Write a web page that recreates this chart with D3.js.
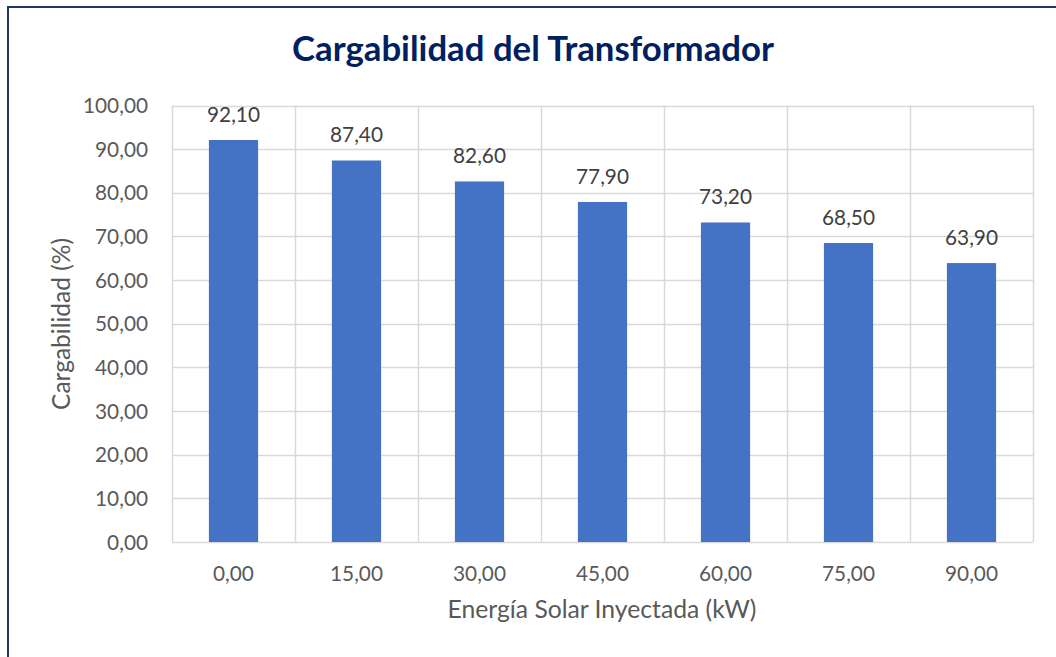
<!DOCTYPE html>
<html><head><meta charset="utf-8">
<script src="https://cdn.jsdelivr.net/npm/d3@7/dist/d3.min.js"></script>
<style>html,body{margin:0;padding:0;background:#fff;}svg{display:block;}</style>
</head><body>
<svg id="c" width="1056" height="657"></svg>
<script>
const categories = ["0,00","15,00","30,00","45,00","60,00","75,00","90,00"];
const values = [92.10, 87.40, 82.60, 77.90, 73.20, 68.50, 63.90];
const yTicks = [0,10,20,30,40,50,60,70,80,90,100];
const title = "Cargabilidad del Transformador";
const xTitle = "Energía Solar Inyectada (kW)";
const yTitle = "Cargabilidad (%)";

const fmt = v => v.toFixed(2).replace(".", ",");
const FONT = "Lato, 'Open Sans', sans-serif";
const svg = d3.select("#c");
const W = 1056, H = 657;
const m = {left:172, right:1033, top:105.5, bottom:542};

// outer border
svg.append("rect").attr("x",8).attr("y",7).attr("width",W+20).attr("height",H+20)
  .attr("fill","none").attr("stroke","#203864").attr("stroke-width",2);

const x = d3.scaleBand().domain(categories).range([m.left,m.right]).paddingInner(0).paddingOuter(0);
const y = d3.scaleLinear().domain([0,100]).range([m.bottom,m.top]);

// horizontal gridlines
svg.append("g").selectAll("line").data(yTicks).join("line")
  .attr("x1",m.left).attr("x2",m.right)
  .attr("y1",d=>Math.round(y(d))+0.5).attr("y2",d=>Math.round(y(d))+0.5)
  .attr("stroke","#d9d9d9").attr("stroke-width",1.5);
// vertical gridlines at category boundaries
const bounds = categories.map(c=>x(c)).concat([m.right]);
svg.append("g").selectAll("line").data(bounds).join("line")
  .attr("x1",d=>Math.round(d)+0.5).attr("x2",d=>Math.round(d)+0.5)
  .attr("y1",m.top).attr("y2",m.bottom)
  .attr("stroke","#d9d9d9").attr("stroke-width",1.5);

// bars
const bw = x.bandwidth()*0.4;
svg.append("g").selectAll("rect").data(values).join("rect")
  .attr("x",(d,i)=>x(categories[i])+x.bandwidth()/2-bw/2)
  .attr("width",bw)
  .attr("y",d=>y(d)).attr("height",d=>y(0)-y(d))
  .attr("fill","#4472c4");

function fitText(sel, target){
  sel.each(function(){
    const n = this; const fs = parseFloat(n.getAttribute("font-size"));
    const w = n.getComputedTextLength();
    if (w>0) n.setAttribute("font-size", (fs*target/w).toFixed(2));
  });
}

// data labels
svg.append("g").selectAll("text").data(values).join("text")
  .attr("x",(d,i)=>x(categories[i])+x.bandwidth()/2)
  .attr("y",d=>y(d)-18)
  .attr("text-anchor","middle").attr("font-family",FONT).attr("font-size",22)
  .attr("fill","#404040").text(d=>fmt(d));

// y tick labels
const yl = svg.append("g").selectAll("text").data(yTicks).join("text")
  .attr("x",148).attr("y",d=>y(d)+7.5)
  .attr("text-anchor","end").attr("font-family",FONT).attr("font-size",22)
  .attr("fill","#595959").text(d=>fmt(d));
fitText(yl.filter(d=>d===100), 65);
const yfs = yl.filter(d=>d===100).attr("font-size");
yl.attr("font-size", yfs);

// x tick labels
svg.append("g").selectAll("text").data(categories).join("text")
  .attr("x",c=>x(c)+x.bandwidth()/2).attr("y",581)
  .attr("text-anchor","middle").attr("font-family",FONT).attr("font-size",yfs)
  .attr("fill","#595959").text(c=>c);

svg.selectAll("g text").filter(function(){return this.getAttribute("fill")==="#404040";}).attr("font-size",yfs);

// axis titles
const xt = svg.append("text").attr("x",602).attr("y",618).attr("text-anchor","middle")
  .attr("font-family",FONT).attr("font-size",22).attr("fill","#595959").text(xTitle);
fitText(xt, 309);
const yt = svg.append("text").attr("transform","translate(70,324) rotate(-90)").attr("text-anchor","middle")
  .attr("font-family",FONT).attr("font-size",22).attr("fill","#595959").text(yTitle);
fitText(yt, 172);

// title
const tt = svg.append("text").attr("x",533).attr("y",61).attr("text-anchor","middle")
  .attr("font-family",FONT).attr("font-weight","bold").attr("font-size",30).attr("fill","#002060").text(title);
fitText(tt, 482);
</script>
</body></html>
